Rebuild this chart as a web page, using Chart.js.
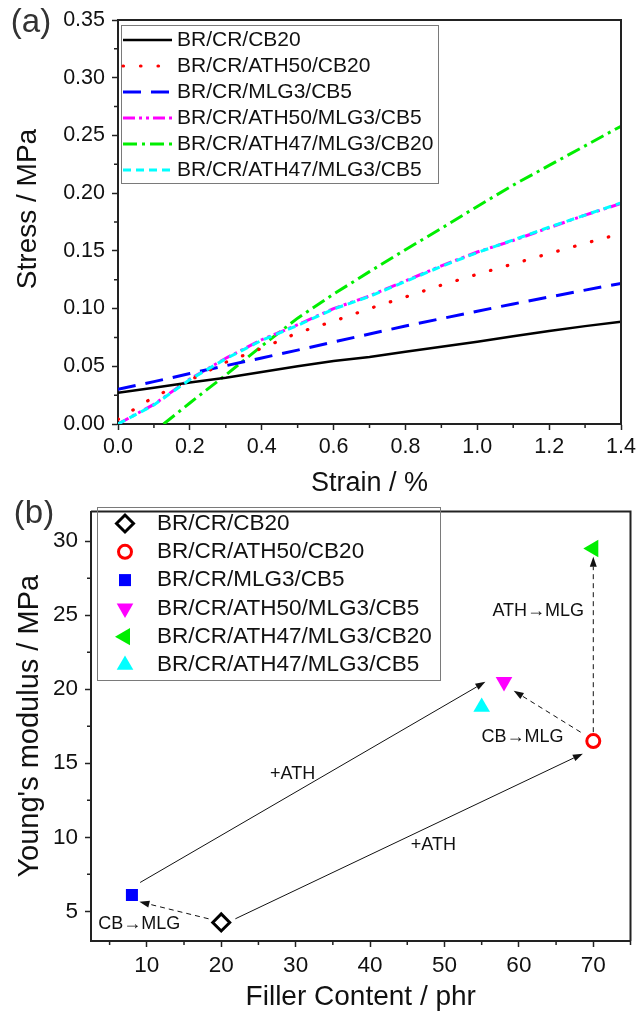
<!DOCTYPE html>
<html lang="en">
<head>
<meta charset="UTF-8">
<title>Stress-strain curves and Young's modulus</title>
<script src="https://cdn.jsdelivr.net/npm/chart.js@4"></script>
<style>
    html, body { margin: 0; padding: 0; background: #fff; }
    canvas { display: block; }
</style>
</head>
<body>
<canvas id="stressChart" width="642" height="500"></canvas>
<canvas id="modulusChart" width="642" height="521"></canvas>
<script>
const FONT = "'Liberation Sans', Arial, sans-serif";
const INK = '#111';
const AXIS = '#222';

// (a) stress-strain curves
const strain = [0, 0.1, 0.2, 0.3, 0.4, 0.5, 0.6, 0.7, 0.8, 0.9, 1.0, 1.1, 1.2, 1.3, 1.4];
const stressCB20         = [0.027, 0.0315, 0.036, 0.040, 0.045, 0.050, 0.0545, 0.058, 0.0625, 0.067, 0.0713, 0.076, 0.0806, 0.0848, 0.0886];
const stressATH50CB20    = [0.004, 0.0235, 0.038, 0.0535, 0.0655, 0.079, 0.089, 0.100, 0.110, 0.1203, 0.1297, 0.1387, 0.1477, 0.1565, 0.165];
const stressMLG3CB5      = [0.030, 0.0367, 0.0437, 0.0505, 0.0572, 0.064, 0.071, 0.078, 0.0849, 0.0913, 0.0977, 0.104, 0.110, 0.116, 0.1218];
const stressATH50MLG3CB5 = [0.0, 0.017, 0.039, 0.057, 0.073, 0.086, 0.100, 0.111, 0.124, 0.137, 0.149, 0.159, 0.170, 0.181, 0.191];
const strainATH47MLG3CB20 = [0.127, 0.2, 0.3, 0.4, 0.5, 0.6, 0.7, 0.8, 0.9, 1.0, 1.1, 1.2, 1.3, 1.4];
const stressATH47MLG3CB20 = [0.0, 0.0182, 0.0425, 0.0676, 0.0917, 0.1125, 0.132, 0.151, 0.1695, 0.1885, 0.207, 0.224, 0.241, 0.258];
const stressATH47MLG3CB5 = [0.0, 0.0165, 0.0385, 0.0565, 0.0725, 0.0855, 0.0995, 0.1105, 0.1235, 0.1365, 0.1485, 0.1595, 0.1705, 0.181, 0.1915];

const strainTicks = [0, 0.2, 0.4, 0.6, 0.8, 1.0, 1.2, 1.4];
const strainMinor = [0.1, 0.3, 0.5, 0.7, 0.9, 1.1, 1.3];
const stressTicks = [0, 0.05, 0.1, 0.15, 0.2, 0.25, 0.3, 0.35];
const stressMinor = [0.025, 0.075, 0.125, 0.175, 0.225, 0.275, 0.325];

// (b) Young's modulus against filler content
const samples = ['BR/CR/CB20', 'BR/CR/ATH50/CB20', 'BR/CR/MLG3/CB5',
                 'BR/CR/ATH50/MLG3/CB5', 'BR/CR/ATH47/MLG3/CB20', 'BR/CR/ATH47/MLG3/CB5'];
const fillerContent = [20, 70, 8, 58, 70, 55];
const modulus = [4.25, 16.5, 6.1, 20.5, 29.5, 18.8];

const fillerTicks = [10, 20, 30, 40, 50, 60, 70];
const fillerMinor = [5, 15, 25, 35, 45, 55, 65, 75];
const modulusTicks = [5, 10, 15, 20, 25, 30];
const modulusMinor = [7.5, 12.5, 17.5, 22.5, 27.5];

// arrows and notes between samples, in data units
const arrowsB = [
    { from: [18.3, 4.5],  to: [9.0, 5.65],   dashed: true },
    { from: [9.1, 6.95],  to: [55.5, 20.5],  dashed: false },
    { from: [21.9, 4.5],  to: [68.6, 15.65], dashed: false },
    { from: [68.3, 17.1], to: [59.3, 19.9],  dashed: true },
    { from: [70, 17.1],   to: [70, 28.95],   dashed: true }
];
const notesB = [
    { text: 'CB\u2192MLG',  at: [9.0, 4.15] },
    { text: '+ATH',         at: [29.6, 14.3] },
    { text: '+ATH',         at: [48.5, 9.45] },
    { text: 'CB\u2192MLG',  at: [60.5, 16.8] },
    { text: 'ATH\u2192MLG', at: [62.6, 25.3] }
];

function toPoints(xs, ys) {
    return xs.map((x, i) => ({ x: x, y: ys[i] }));
}

// top/right frame and short outward minor ticks
const frameTicks = {
    id: 'frameTicks',
    afterDraw(chart, args, o) {
        const { ctx, chartArea: a, scales: { x, y } } = chart;
        ctx.save();
        ctx.strokeStyle = AXIS;
        ctx.lineWidth = 2;
        ctx.beginPath();
        ctx.moveTo(a.left, a.top);
        ctx.lineTo(a.right, a.top);
        ctx.lineTo(a.right, a.bottom);
        ctx.stroke();
        ctx.lineWidth = 1.5;
        ctx.beginPath();
        o.xMinor.forEach(v => {
            const px = x.getPixelForValue(v);
            ctx.moveTo(px, a.bottom);
            ctx.lineTo(px, a.bottom + 4);
        });
        o.yMinor.forEach(v => {
            const py = y.getPixelForValue(v);
            ctx.moveTo(a.left, py);
            ctx.lineTo(a.left - 4, py);
        });
        ctx.stroke();
        ctx.restore();
    }
};

// free text: panel letters, rotated titles
const freeText = {
    id: 'freeText',
    afterDraw(chart, args, o) {
        const ctx = chart.ctx;
        o.items.forEach(t => {
            ctx.save();
            ctx.font = t.font;
            ctx.fillStyle = t.color || INK;
            ctx.textAlign = 'center';
            ctx.textBaseline = 'middle';
            ctx.translate(t.x, t.y);
            if (t.rotate) ctx.rotate(t.rotate);
            ctx.fillText(t.text, 0, 0);
            ctx.restore();
        });
    }
};

// boxed legend with line samples
const lineLegend = {
    id: 'lineLegend',
    afterDraw(chart, args, o) {
        const ctx = chart.ctx;
        const [bx, by, bw, bh] = o.box;
        ctx.save();
        ctx.fillStyle = '#fff';
        ctx.fillRect(bx, by, bw, bh);
        ctx.strokeStyle = '#7a7a7a';
        ctx.lineWidth = 1;
        ctx.strokeRect(bx + 0.5, by + 0.5, bw, bh);
        ctx.font = o.fontSize + 'px ' + FONT;
        ctx.textBaseline = 'middle';
        chart.data.datasets.forEach((ds, i) => {
            const y = o.rowY + i * o.rowGap;
            ctx.strokeStyle = ds.borderColor;
            ctx.lineWidth = ds.borderWidth;
            ctx.lineCap = ds.borderCapStyle || 'butt';
            ctx.setLineDash(ds.borderDash || []);
            ctx.beginPath();
            ctx.moveTo(o.sampleX[0], y);
            ctx.lineTo(o.sampleX[1], y);
            ctx.stroke();
            ctx.setLineDash([]);
            ctx.fillStyle = INK;
            ctx.fillText(ds.label, o.textX, y);
        });
        ctx.restore();
    }
};

// boxed legend with marker samples
const pointLegend = {
    id: 'pointLegend',
    afterDraw(chart, args, o) {
        const ctx = chart.ctx;
        const [bx, by, bw, bh] = o.box;
        ctx.save();
        ctx.strokeStyle = '#7a7a7a';
        ctx.lineWidth = 1;
        ctx.strokeRect(bx + 0.5, by + 0.5, bw, bh);
        ctx.font = o.fontSize + 'px ' + FONT;
        ctx.textBaseline = 'middle';
        chart.data.datasets.forEach((ds, i) => {
            const y = o.rowY + i * o.rowGap;
            ctx.fillStyle = ds.backgroundColor;
            ctx.strokeStyle = ds.borderColor;
            ctx.lineWidth = ds.borderWidth;
            Chart.helpers.drawPoint(ctx, {
                pointStyle: ds.pointStyle,
                radius: ds.pointRadius,
                rotation: ds.pointRotation || 0,
                borderWidth: ds.borderWidth
            }, o.symbolX, y);
            ctx.fillStyle = INK;
            ctx.fillText(ds.label, o.textX, y);
        });
        ctx.restore();
    }
};

// arrows and labels drawn under the markers
const annotations = {
    id: 'annotations',
    beforeDatasetsDraw(chart, args, o) {
        const { ctx, scales: { x, y } } = chart;
        ctx.save();
        ctx.strokeStyle = INK;
        ctx.fillStyle = INK;
        ctx.lineWidth = 1;
        o.arrows.forEach(a => {
            const x0 = x.getPixelForValue(a.from[0]), y0 = y.getPixelForValue(a.from[1]);
            const x1 = x.getPixelForValue(a.to[0]),   y1 = y.getPixelForValue(a.to[1]);
            const ang = Math.atan2(y1 - y0, x1 - x0);
            const c = Math.cos(ang), s = Math.sin(ang);
            const head = 10, half = 3.5;
            ctx.setLineDash(a.dashed ? [5, 4] : []);
            ctx.beginPath();
            ctx.moveTo(x0, y0);
            ctx.lineTo(x1 - head * c, y1 - head * s);
            ctx.stroke();
            ctx.setLineDash([]);
            ctx.beginPath();
            ctx.moveTo(x1, y1);
            ctx.lineTo(x1 - head * c + half * s, y1 - head * s - half * c);
            ctx.lineTo(x1 - head * c - half * s, y1 - head * s + half * c);
            ctx.closePath();
            ctx.fill();
        });
        ctx.font = '18px ' + FONT;
        ctx.textAlign = 'center';
        ctx.textBaseline = 'middle';
        o.notes.forEach(n => {
            ctx.fillText(n.text, x.getPixelForValue(n.at[0]), y.getPixelForValue(n.at[1]));
        });
        ctx.restore();
    }
};

function fixedTicks(values) {
    return scale => { scale.ticks = values.map(v => ({ value: v })); };
}

const stressChart = new Chart(document.getElementById('stressChart'), {
    type: 'line',
    data: {
        datasets: [
            { label: samples[0], data: toPoints(strain, stressCB20),
              borderColor: '#000000', borderWidth: 2.5, borderDash: [] },
            { label: samples[1], data: toPoints(strain, stressATH50CB20),
              borderColor: '#ff0000', borderWidth: 3.2, borderDash: [0.5, 17], borderCapStyle: 'round' },
            { label: samples[2], data: toPoints(strain, stressMLG3CB5),
              borderColor: '#0000ff', borderWidth: 3, borderDash: [18, 10] },
            { label: samples[3], data: toPoints(strain, stressATH50MLG3CB5),
              borderColor: '#ff00ff', borderWidth: 3, borderDash: [12, 4, 3, 4, 3, 4] },
            { label: samples[4], data: toPoints(strainATH47MLG3CB20, stressATH47MLG3CB20),
              borderColor: '#00ee00', borderWidth: 3, borderDash: [14, 5, 3, 5] },
            { label: samples[5], data: toPoints(strain, stressATH47MLG3CB5),
              borderColor: '#00ffff', borderWidth: 3, borderDash: [8, 5], order: -1 }
        ]
    },
    options: {
        responsive: false,
        animation: false,
        devicePixelRatio: 1,
        pointRadius: 0,
        elements: { point: { radius: 0 }, line: { tension: 0, fill: false } },
        layout: { padding: { top: 20, right: 21, left: 0, bottom: 0 } },
        plugins: {
            legend: { display: false },
            tooltip: { enabled: false },
            frameTicks: { xMinor: strainMinor, yMinor: stressMinor },
            lineLegend: { box: [121, 25, 317, 158], rowY: 40, rowGap: 26,
                          sampleX: [123, 172], textX: 177, fontSize: 21 },
            freeText: { items: [
                { text: '(a)', x: 31, y: 23, font: '33px ' + FONT, color: '#333' },
                { text: 'Stress / MPa', x: 28, y: 209, font: '28px ' + FONT, rotate: -Math.PI / 2 }
            ] }
        },
        scales: {
            x: {
                type: 'linear', min: 0, max: 1.4,
                afterBuildTicks: fixedTicks(strainTicks),
                afterFit: s => { s.height = 76; s.paddingLeft = 0; s.paddingRight = 0; },
                border: { color: AXIS, width: 2 },
                grid: { drawOnChartArea: false, tickLength: 6, tickWidth: 1.5, tickColor: AXIS },
                ticks: { color: INK, padding: 4, maxRotation: 0, font: { family: FONT, size: 21.5 },
                         callback: v => v.toFixed(1) },
                title: { display: true, text: 'Strain / %', color: INK,
                         font: { family: FONT, size: 27, lineHeight: 1 }, padding: { top: 0, bottom: 3 } }
            },
            y: {
                type: 'linear', min: 0, max: 0.35,
                afterBuildTicks: fixedTicks(stressTicks),
                afterFit: s => { s.width = 118; s.paddingTop = 0; s.paddingBottom = 0; },
                border: { color: AXIS, width: 2 },
                grid: { drawOnChartArea: false, tickLength: 6, tickWidth: 1.5, tickColor: AXIS },
                ticks: { color: INK, padding: 7, font: { family: FONT, size: 21.5 },
                         callback: v => v.toFixed(2) }
            }
        }
    },
    plugins: [frameTicks, lineLegend, freeText]
});

// marker styles for the six compounds
const markerStyles = [
    { pointStyle: 'rectRot',  pointRadius: 8.5, borderWidth: 3, borderColor: '#000000', backgroundColor: '#ffffff' },
    { pointStyle: 'circle',   pointRadius: 6.5, borderWidth: 3, borderColor: '#ff0000', backgroundColor: '#ffffff' },
    { pointStyle: 'rect',     pointRadius: 8.5, borderWidth: 0, borderColor: '#0000ff', backgroundColor: '#0000ff' },
    { pointStyle: 'triangle', pointRadius: 9.6, borderWidth: 0, borderColor: '#ff00ff', backgroundColor: '#ff00ff', pointRotation: 180 },
    { pointStyle: 'triangle', pointRadius: 10,  borderWidth: 0, borderColor: '#00ee00', backgroundColor: '#00ee00', pointRotation: 270 },
    { pointStyle: 'triangle', pointRadius: 9.6, borderWidth: 0, borderColor: '#00ffff', backgroundColor: '#00ffff' }
];

const modulusChart = new Chart(document.getElementById('modulusChart'), {
    type: 'scatter',
    data: {
        datasets: samples.map((name, i) => Object.assign({
            label: name,
            data: [{ x: fillerContent[i], y: modulus[i] }],
            pointHoverRadius: markerStyles[i].pointRadius
        }, markerStyles[i]))
    },
    options: {
        responsive: false,
        animation: false,
        devicePixelRatio: 1,
        layout: { padding: { top: 3, right: 7, left: 0, bottom: 0 } },
        plugins: {
            legend: { display: false },
            tooltip: { enabled: false },
            frameTicks: { xMinor: fillerMinor, yMinor: modulusMinor },
            annotations: { arrows: arrowsB, notes: notesB },
            pointLegend: { box: [97, 7, 343, 173], rowY: 23.5, rowGap: 28.3,
                           symbolX: 125, textX: 157, fontSize: 22.5 },
            freeText: { items: [
                { text: '(b)', x: 34, y: 14, font: '33px ' + FONT, color: '#333' }
            ] }
        },
        scales: {
            x: {
                type: 'linear', min: 2.5, max: 75,
                afterBuildTicks: fixedTicks(fillerTicks),
                afterFit: s => { s.height = 80; s.paddingLeft = 0; s.paddingRight = 0; },
                border: { color: AXIS, width: 2 },
                grid: { drawOnChartArea: false, tickLength: 6, tickWidth: 1.5, tickColor: AXIS },
                ticks: { color: INK, padding: 5, maxRotation: 0, font: { family: FONT, size: 22.5 } },
                title: { display: true, text: 'Filler Content / phr', color: INK,
                         font: { family: FONT, size: 28, lineHeight: 1 }, padding: { top: 0, bottom: 10 } }
            },
            y: {
                type: 'linear', min: 3, max: 32,
                afterBuildTicks: fixedTicks(modulusTicks),
                afterFit: s => { s.width = 91; s.paddingTop = 0; s.paddingBottom = 0; },
                border: { color: AXIS, width: 2 },
                grid: { drawOnChartArea: false, tickLength: 6, tickWidth: 1.5, tickColor: AXIS },
                ticks: { color: INK, padding: 7, font: { family: FONT, size: 22.5 } },
                title: { display: true, text: "Young's modulus / MPa", color: INK,
                         font: { family: FONT, size: 29, lineHeight: 1 }, padding: { top: 15.5, bottom: 0 } }
            }
        }
    },
    plugins: [frameTicks, annotations, pointLegend, freeText]
});
</script>
</body>
</html>
